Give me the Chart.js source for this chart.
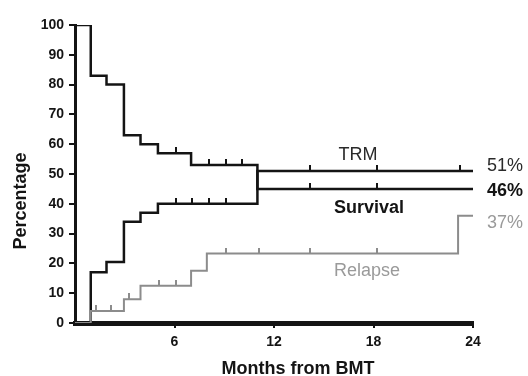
<!DOCTYPE html>
<html>
<head>
<meta charset="utf-8">
<script src="https://cdn.jsdelivr.net/npm/chart.js@4"></script>
<style>
  html, body { margin: 0; padding: 0; background: #fff; }
</style>
</head>
<body>
<canvas id="km" width="528" height="376"></canvas>
<script>
// Survival / TRM / Relapse after BMT — step curves with censor ticks

const survivalTimes    = [0, 0.95, 1.9, 2.95, 3.95, 5, 7, 11, 24];
const survivalValues   = [100, 83, 80, 63, 60, 57, 53, 45, 45];
const survivalCensored = [6.1, 8.1, 9.13, 10.1, 14.15, 18.2];

const trmTimes    = [0, 0.95, 1.9, 2.95, 3.95, 5, 11, 24];
const trmValues   = [0, 17, 20.5, 34, 37, 40, 51, 51];
const trmCensored = [6.1, 7.07, 8.1, 9.13, 14.15, 18.2, 23.2];

const relapseTimes    = [0, 0.95, 2.95, 3.95, 7, 7.95, 23.1, 24];
const relapseValues   = [0, 4, 8, 12.5, 17.5, 23.3, 36, 36];
const relapseCensored = [1.27, 2.18, 3.26, 5.08, 6.1, 9.13, 11.1, 14.15, 18.2];

const xTicks = [6, 12, 18, 24];
const endLabels = ['51%', '46%', '37%'];   // TRM, Survival, Relapse
const curveNames = ['TRM', 'Survival', 'Relapse'];

const BLACK = '#141414';
const GREY  = '#8c8c8c';
const FONT  = '"Liberation Sans", Arial, sans-serif';

// ── helpers ────────────────────────────────────────────────

function toPoints(times, values) {
    return times.map((t, i) => ({ x: t, y: values[i] }));
}

// value of a step curve at time t (last step at or before t)
function stepValueAt(times, values, t) {
    let v = values[0];
    for (let i = 0; i < times.length; i++) {
        if (times[i] <= t) v = values[i];
    }
    return v;
}

function censorPoints(times, values, cens) {
    return cens.map(t => ({ x: t, y: stepValueAt(times, values, t) }));
}

// small upward tick used as point style (drawn centred, only top half painted)
function tickMark(color) {
    const c = document.createElement('canvas');
    c.width = 2; c.height = 12;
    const g = c.getContext('2d');
    g.fillStyle = color;
    g.fillRect(0, 0, 2, 6);
    return c;
}

function curve(label, times, values, color, width) {
    return {
        label, data: toPoints(times, values),
        showLine: true, stepped: 'before',
        borderColor: color, borderWidth: width,
        pointRadius: 0, fill: false,
    };
}

function censors(times, values, cens, color) {
    return {
        data: censorPoints(times, values, cens),
        showLine: false,
        pointStyle: tickMark(color), pointRadius: 3,
        borderColor: color, backgroundColor: color,
    };
}

// ── text annotations ───────────────────────────────────────

const labelPlugin = {
    id: 'kmLabels',
    afterDraw(chart) {
        const ctx = chart.ctx;
        ctx.save();
        ctx.textBaseline = 'middle';

        // axis titles
        ctx.fillStyle = BLACK;
        ctx.textAlign = 'center';
        ctx.font = `bold 18px ${FONT}`;
        ctx.fillText('Months from BMT', 298, 369);
        ctx.save();
        ctx.translate(21, 201);
        ctx.rotate(-Math.PI / 2);
        ctx.fillText('Percentage', 0, 0);
        ctx.restore();

        // curve names
        ctx.font = `18px ${FONT}`;
        ctx.fillStyle = '#2a2a2a';
        ctx.fillText(curveNames[0], 358, 155);
        ctx.font = `bold 18px ${FONT}`;
        ctx.fillStyle = BLACK;
        ctx.fillText(curveNames[1], 369, 208);
        ctx.font = `18px ${FONT}`;
        ctx.fillStyle = '#9a9a9a';
        ctx.fillText(curveNames[2], 367, 271);

        // end percentages
        ctx.textAlign = 'left';
        ctx.font = `18px ${FONT}`;
        ctx.fillStyle = '#2a2a2a';
        ctx.fillText(endLabels[0], 487, 166);
        ctx.font = `bold 18px ${FONT}`;
        ctx.fillStyle = BLACK;
        ctx.fillText(endLabels[1], 487, 191);
        ctx.font = `18px ${FONT}`;
        ctx.fillStyle = '#9a9a9a';
        ctx.fillText(endLabels[2], 487, 223);

        ctx.restore();
    }
};

// ── chart ──────────────────────────────────────────────────

new Chart(document.getElementById('km'), {
    type: 'scatter',
    data: {
        datasets: [
            curve('Relapse', relapseTimes, relapseValues, GREY, 2),
            censors(relapseTimes, relapseValues, relapseCensored, GREY),
            curve('TRM', trmTimes, trmValues, BLACK, 2.5),
            censors(trmTimes, trmValues, trmCensored, BLACK),
            curve('Survival', survivalTimes, survivalValues, BLACK, 2.5),
            censors(survivalTimes, survivalValues, survivalCensored, BLACK),
        ]
    },
    options: {
        responsive: false, animation: false, devicePixelRatio: 1,
        layout: { padding: { top: 25, right: 55, left: 0, bottom: 0 } },
        plugins: { legend: { display: false }, tooltip: { enabled: false } },
        scales: {
            x: {
                type: 'linear', min: 0, max: 24,
                afterFit: s => { s.height = 53; },
                afterBuildTicks: s => { s.ticks = xTicks.map(v => ({ value: v })); },
                ticks: { color: BLACK, font: { family: FONT, size: 14, weight: 'bold' }, padding: 6, maxRotation: 0 },
                grid: { drawOnChartArea: false, drawTicks: true, tickLength: 5, color: BLACK, lineWidth: 2 },
                border: { display: true, color: BLACK, width: 5 },
            },
            y: {
                min: 0, max: 100,
                afterFit: s => { s.width = 75; },
                ticks: { stepSize: 10, color: BLACK, font: { family: FONT, size: 14, weight: 'bold' }, padding: 5 },
                grid: { drawOnChartArea: false, drawTicks: true, tickLength: 6, color: BLACK, lineWidth: 2 },
                border: { display: true, color: BLACK, width: 3 },
            },
        },
    },
    plugins: [labelPlugin],
});
</script>
</body>
</html>
